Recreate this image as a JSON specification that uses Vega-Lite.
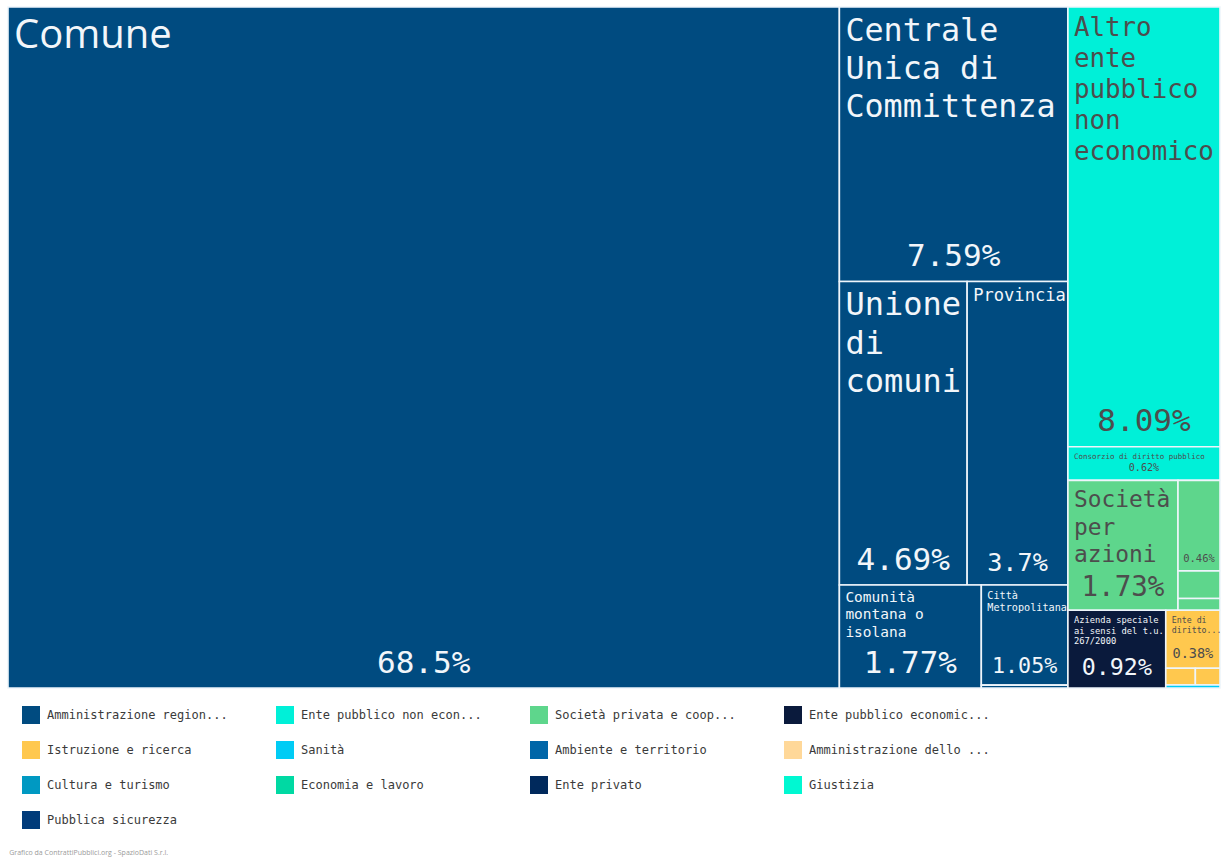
{
  "$schema": "https://vega.github.io/schema/vega-lite/v6.json",
  "width": 1212,
  "height": 681,
  "autosize": {"type": "none"},
  "padding": {"left": 8, "top": 7, "right": 2, "bottom": 173},
  "background": "#ffffff",
  "title": {
    "text": "Grafico da ContrattiPubblici.org - SpazioDati S.r.l.",
    "orient": "bottom",
    "anchor": "start",
    "offset": 20,
    "baseline": "top",
    "fontSize": 7,
    "font": "Open Sans",
    "fontWeight": "normal",
    "color": "#9a9a9a",
    "dx": 2
  },
  "data": {
    "values": [
      {"name": "Comune", "label": "Comune", "cat": "Amministrazione region...", "value": 68.5, "c": 1, "r": 1, "s": 1, "t": 1},
      {"name": "Centrale Unica di Committenza", "label": "Centrale|Unica di|Committenza", "cat": "Amministrazione region...", "value": 7.59, "c": 2, "r": 1, "s": 1, "t": 1},
      {"name": "Unione di comuni", "label": "Unione|di|comuni", "cat": "Amministrazione region...", "value": 4.69, "c": 2, "r": 2, "s": 1, "t": 1},
      {"name": "Provincia", "label": "Provincia", "cat": "Amministrazione region...", "value": 3.7, "c": 2, "r": 2, "s": 2, "t": 1},
      {"name": "Comunità montana o isolana", "label": "Comunità|montana o|isolana", "cat": "Amministrazione region...", "value": 1.77, "c": 2, "r": 3, "s": 1, "t": 1},
      {"name": "Città Metropolitana", "label": "Città|Metropolitana", "cat": "Amministrazione region...", "value": 1.05, "c": 2, "r": 3, "s": 2, "t": 1},
      {"name": "Consorzio di comuni", "label": "Consorzio di comuni", "cat": "Amministrazione region...", "value": 0.03, "c": 2, "r": 3, "s": 2, "t": 2},
      {"name": "Altro ente pubblico non economico", "label": "Altro|ente|pubblico|non|economico", "cat": "Ente pubblico non econ...", "value": 8.09, "c": 3, "r": 1, "s": 1, "t": 1},
      {"name": "Consorzio di diritto pubblico", "label": "Consorzio di diritto pubblico", "cat": "Ente pubblico non econ...", "value": 0.62, "c": 3, "r": 1, "s": 1, "t": 2},
      {"name": "Società per azioni", "label": "Società|per|azioni", "cat": "Società privata e coop...", "value": 1.73, "c": 3, "r": 2, "s": 1, "t": 1},
      {"name": "Società a responsabilità limitata", "label": "Società a|responsabilità|limitata", "cat": "Società privata e coop...", "value": 0.46, "c": 3, "r": 2, "s": 2, "t": 1},
      {"name": "Società cooperativa", "label": "Società cooperativa", "cat": "Società privata e coop...", "value": 0.14, "c": 3, "r": 2, "s": 2, "t": 2},
      {"name": "Società consortile", "label": "Società consortile", "cat": "Società privata e coop...", "value": 0.06, "c": 3, "r": 2, "s": 2, "t": 3},
      {"name": "Azienda speciale ai sensi del t.u. 267/2000", "label": "Azienda speciale|ai sensi del t.u.|267/2000", "cat": "Ente pubblico economic...", "value": 0.92, "c": 3, "r": 3, "s": 1, "t": 1},
      {"name": "Ente di diritto...", "label": "Ente di|diritto...", "cat": "Istruzione e ricerca", "value": 0.38, "c": 3, "r": 3, "s": 2, "t": 1},
      {"name": "Università", "label": "Università", "cat": "Istruzione e ricerca", "value": 0.06, "c": 3, "r": 3, "s": 2, "t": 2},
      {"name": "Istituto di ricerca", "label": "Istituto di ricerca", "cat": "Istruzione e ricerca", "value": 0.05, "c": 3, "r": 3, "s": 2, "t": 2},
      {"name": "Azienda sanitaria", "label": "Azienda sanitaria", "cat": "Sanità", "value": 0.02, "c": 3, "r": 3, "s": 2, "t": 3}
    ]
  },
  "transform": [
    {"joinaggregate": [{"op": "sum", "field": "value", "as": "total"}]},
    {"joinaggregate": [{"op": "sum", "field": "value", "as": "colSum"}], "groupby": ["c"]},
    {"joinaggregate": [{"op": "sum", "field": "value", "as": "rowSum"}], "groupby": ["c", "r"]},
    {"joinaggregate": [{"op": "sum", "field": "value", "as": "subSum"}], "groupby": ["c", "r", "s"]},
    {"joinaggregate": [{"op": "sum", "field": "value", "as": "bandSum"}], "groupby": ["c", "r", "s", "t"]},
    {"window": [{"op": "sum", "field": "value", "as": "colEnd"}], "sort": [{"field": "c"}], "frame": [null, 0], "ignorePeers": false},
    {"window": [{"op": "sum", "field": "value", "as": "rowEnd"}], "groupby": ["c"], "sort": [{"field": "r"}], "frame": [null, 0], "ignorePeers": false},
    {"window": [{"op": "sum", "field": "value", "as": "subEnd"}], "groupby": ["c", "r"], "sort": [{"field": "s"}], "frame": [null, 0], "ignorePeers": false},
    {"window": [{"op": "sum", "field": "value", "as": "bandEnd"}], "groupby": ["c", "r", "s"], "sort": [{"field": "t"}], "frame": [null, 0], "ignorePeers": false},
    {"window": [{"op": "sum", "field": "value", "as": "itemEnd"}], "groupby": ["c", "r", "s", "t"], "sort": [{"field": "value", "order": "descending"}], "frame": [null, 0], "ignorePeers": true},
    {"calculate": "(datum.colEnd - datum.colSum) / datum.total", "as": "colX0"},
    {"calculate": "datum.colSum / datum.total", "as": "colW"},
    {"calculate": "(datum.rowEnd - datum.rowSum) / datum.colSum", "as": "rowY0"},
    {"calculate": "datum.rowSum / datum.colSum", "as": "rowH"},
    {"calculate": "datum.colX0 + datum.colW * (datum.subEnd - datum.subSum) / datum.rowSum", "as": "subX0"},
    {"calculate": "datum.colW * datum.subSum / datum.rowSum", "as": "subW"},
    {"calculate": "datum.rowY0 + datum.rowH * (datum.bandEnd - datum.bandSum) / datum.subSum", "as": "y0"},
    {"calculate": "datum.y0 + datum.rowH * datum.bandSum / datum.subSum", "as": "y1"},
    {"calculate": "datum.subX0 + datum.subW * (datum.itemEnd - datum.value) / datum.bandSum", "as": "x0"},
    {"calculate": "datum.x0 + datum.subW * datum.value / datum.bandSum", "as": "x1"},
    {"calculate": "(datum.x0 + datum.x1) / 2", "as": "xm"},
    {"calculate": "(datum.x1 - datum.x0) * 1212", "as": "wpx"},
    {"calculate": "(datum.y1 - datum.y0) * 681", "as": "hpx"},
    {"calculate": "split(datum.label, '|')", "as": "lines"},
    {"calculate": "length(datum.lines)", "as": "nl"},
    {"calculate": "max(length(datum.lines[0] || ''), length(datum.lines[1] || ''), length(datum.lines[2] || ''), length(datum.lines[3] || ''), length(datum.lines[4] || ''))", "as": "ml"},
    {"calculate": "min(31, datum.wpx * 0.25, datum.hpx * 0.3)", "as": "pctSize"},
    {"calculate": "datum.wpx > 500 ? 40 : min(32, datum.wpx * 0.92 / (datum.ml * 0.602), max(7.5, (datum.hpx - datum.pctSize - 20) / (datum.nl * 1.2)))", "as": "labSize"},
    {"calculate": "datum.value + '%'", "as": "pctText"},
    {"calculate": "datum.cat == 'Amministrazione region...' || datum.cat == 'Ente pubblico economic...'", "as": "dark"}
  ],
  "encoding": {
    "x": {"field": "x0", "type": "quantitative", "scale": {"domain": [0, 1], "nice": false, "zero": false}, "axis": null},
    "y": {"field": "y0", "type": "quantitative", "scale": {"domain": [0, 1], "nice": false, "zero": false, "reverse": true}, "axis": null}
  },
  "layer": [
    {
      "mark": {"type": "rect", "stroke": "#eef5fb", "strokeWidth": 1.6},
      "encoding": {
        "x2": {"field": "x1"},
        "y2": {"field": "y1"},
        "color": {
          "field": "cat",
          "type": "nominal",
          "scale": {
            "domain": [
              "Amministrazione region...", "Ente pubblico non econ...", "Società privata e coop...", "Ente pubblico economic...",
              "Istruzione e ricerca", "Sanità", "Ambiente e territorio", "Amministrazione dello ...",
              "Cultura e turismo", "Economia e lavoro", "Ente privato", "Giustizia",
              "Pubblica sicurezza"
            ],
            "range": [
              "#004b80", "#00f0d8", "#5ed68c", "#0a1a3c",
              "#ffc84e", "#00ccf5", "#0066a8", "#ffd899",
              "#0099c2", "#00d9a3", "#00295c", "#00f8d2",
              "#003b7a"
            ]
          },
          "legend": {
            "title": null,
            "orient": "none",
            "legendX": 14,
            "legendY": 699,
            "columns": 4,
            "direction": "horizontal",
            "gridAlign": "all",
            "columnPadding": 48,
            "rowPadding": 17,
            "padding": 0,
            "symbolType": "square",
            "symbolSize": 324,
            "symbolStrokeWidth": 0,
            "symbolOpacity": 1,
            "labelOffset": 7,
            "labelFont": "DejaVu Sans Mono",
            "labelFontSize": 12,
            "labelColor": "#3a3a3a",
            "labelLimit": 260
          }
        }
      }
    },
    {
      "transform": [{"filter": "datum.value >= 0.3 && datum.wpx >= 50"}],
      "mark": {
        "type": "text",
        "align": "left",
        "baseline": "top",
        "dx": 6,
        "dy": {"expr": "datum.labSize > 20 ? 9 : 6"},
        "font": {"expr": "datum.wpx > 500 ? 'Open Sans' : 'DejaVu Sans Mono'"},
        "lineHeight": {"expr": "datum.labSize * 1.2"}
      },
      "encoding": {
        "text": {"field": "lines", "type": "nominal"},
        "size": {"field": "labSize", "type": "quantitative", "scale": null, "legend": null},
        "color": {"condition": {"test": "datum.dark", "value": "#f2f6fa"}, "value": "#4d4d4d"}
      }
    },
    {
      "transform": [{"filter": "datum.value >= 0.3"}],
      "mark": {
        "type": "text",
        "align": "center",
        "baseline": "alphabetic",
        "dy": {"expr": "-(6 + datum.pctSize * 0.3)"},
        "font": "DejaVu Sans Mono"
      },
      "encoding": {
        "x": {"field": "xm", "type": "quantitative"},
        "y": {"field": "y1", "type": "quantitative"},
        "text": {"field": "pctText", "type": "nominal"},
        "size": {"field": "pctSize", "type": "quantitative", "scale": null, "legend": null},
        "color": {"condition": {"test": "datum.dark", "value": "#f2f6fa"}, "value": "#4d4d4d"}
      }
    }
  ],
  "config": {
    "view": {"stroke": null}
  }
}
